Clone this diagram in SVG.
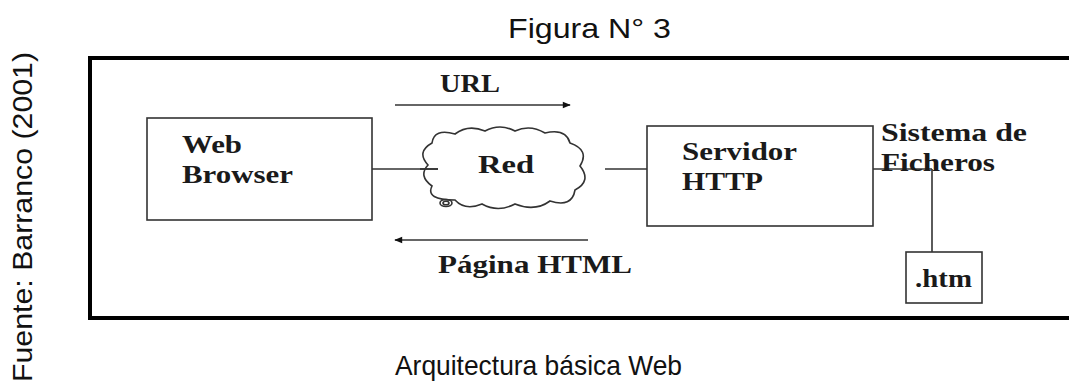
<svg xmlns="http://www.w3.org/2000/svg" width="1069" height="384" viewBox="0 0 1069 384">
<style>
.sans{font-family:"Liberation Sans",Arial,sans-serif;fill:#111;}
.serif{font-family:"Liberation Serif","Times New Roman",serif;font-weight:bold;font-size:26px;fill:#1a1a1a;}
.box{fill:#fff;stroke:#333;stroke-width:1.6;}
.line{stroke:#333;stroke-width:1.6;fill:none;}
</style>
<defs>
<marker id="arr" viewBox="0 0 10 10" refX="9" refY="5" markerWidth="10" markerHeight="8" markerUnits="userSpaceOnUse" orient="auto">
<path d="M0,1 L10,5 L0,9 Z" fill="#111"/>
</marker>
</defs>
<rect width="1069" height="384" fill="#fff"/>
<text class="sans" x="508" y="38" font-size="28" textLength="163" lengthAdjust="spacingAndGlyphs">Figura N° 3</text>
<text class="sans" x="395" y="375" font-size="28" textLength="287" lengthAdjust="spacingAndGlyphs">Arquitectura básica Web</text>
<text class="sans" transform="translate(32,382) rotate(-90)" font-size="28" textLength="330" lengthAdjust="spacingAndGlyphs">Fuente: Barranco (2001)</text>
<path d="M1075,58 H90 V318 H1075" fill="none" stroke="#000" stroke-width="4"/>
<g id="connectors">
<line class="line" x1="372" y1="169" x2="438" y2="169"/>
<line class="line" x1="605" y1="169" x2="647" y2="169"/>
<line class="line" x1="873" y1="169" x2="932" y2="169"/>
<line class="line" x1="932" y1="169" x2="932" y2="252"/>
<line class="line" x1="395" y1="105" x2="570" y2="105" marker-end="url(#arr)"/>
<line class="line" x1="588" y1="240" x2="395" y2="240" marker-end="url(#arr)"/>
<text class="serif" x="440" y="92" textLength="60" lengthAdjust="spacingAndGlyphs">URL</text>
<text class="serif" x="438" y="273" textLength="194" lengthAdjust="spacingAndGlyphs">Página HTML</text>
</g>
<g id="web-browser">
<rect class="box" x="147" y="118" width="225" height="102"/>
<text class="serif" x="182" y="153" textLength="60" lengthAdjust="spacingAndGlyphs">Web</text>
<text class="serif" x="182" y="183" textLength="111" lengthAdjust="spacingAndGlyphs">Browser</text>
</g>
<g id="red">
<path class="line" fill="#fff" d="M428,165 Q416,152 432,143 Q434,128 455,134 Q468,124 485,131 Q500,123 515,131 Q530,124 545,133 Q566,128 570,143 Q590,150 580,166 Q592,181 575,190 Q572,208 550,201 Q535,212 515,204 Q498,213 482,204 Q465,211 455,200 Q425,200 432,186 Q418,176 428,165 Z"/>
<line class="line" x1="420" y1="169" x2="438" y2="169"/>
<ellipse class="line" cx="446" cy="203" rx="6" ry="3.5"/>
<ellipse class="line" cx="446" cy="203" rx="3" ry="1.8"/>
<text class="serif" x="478" y="173" textLength="56" lengthAdjust="spacingAndGlyphs">Red</text>
</g>
<g id="servidor">
<rect class="box" x="647" y="126" width="226" height="100"/>
<text class="serif" x="682" y="160" textLength="115" lengthAdjust="spacingAndGlyphs">Servidor</text>
<text class="serif" x="682" y="190" textLength="81" lengthAdjust="spacingAndGlyphs">HTTP</text>
</g>
<g id="sistema">
<text class="serif" x="881" y="141" textLength="146" lengthAdjust="spacingAndGlyphs">Sistema de</text>
<text class="serif" x="881" y="171" textLength="114" lengthAdjust="spacingAndGlyphs">Ficheros</text>
</g>
<g id="htm">
<rect class="box" x="906" y="252" width="76" height="51"/>
<text class="serif" x="915" y="287" textLength="57" lengthAdjust="spacingAndGlyphs">.htm</text>
</g>
</svg>
